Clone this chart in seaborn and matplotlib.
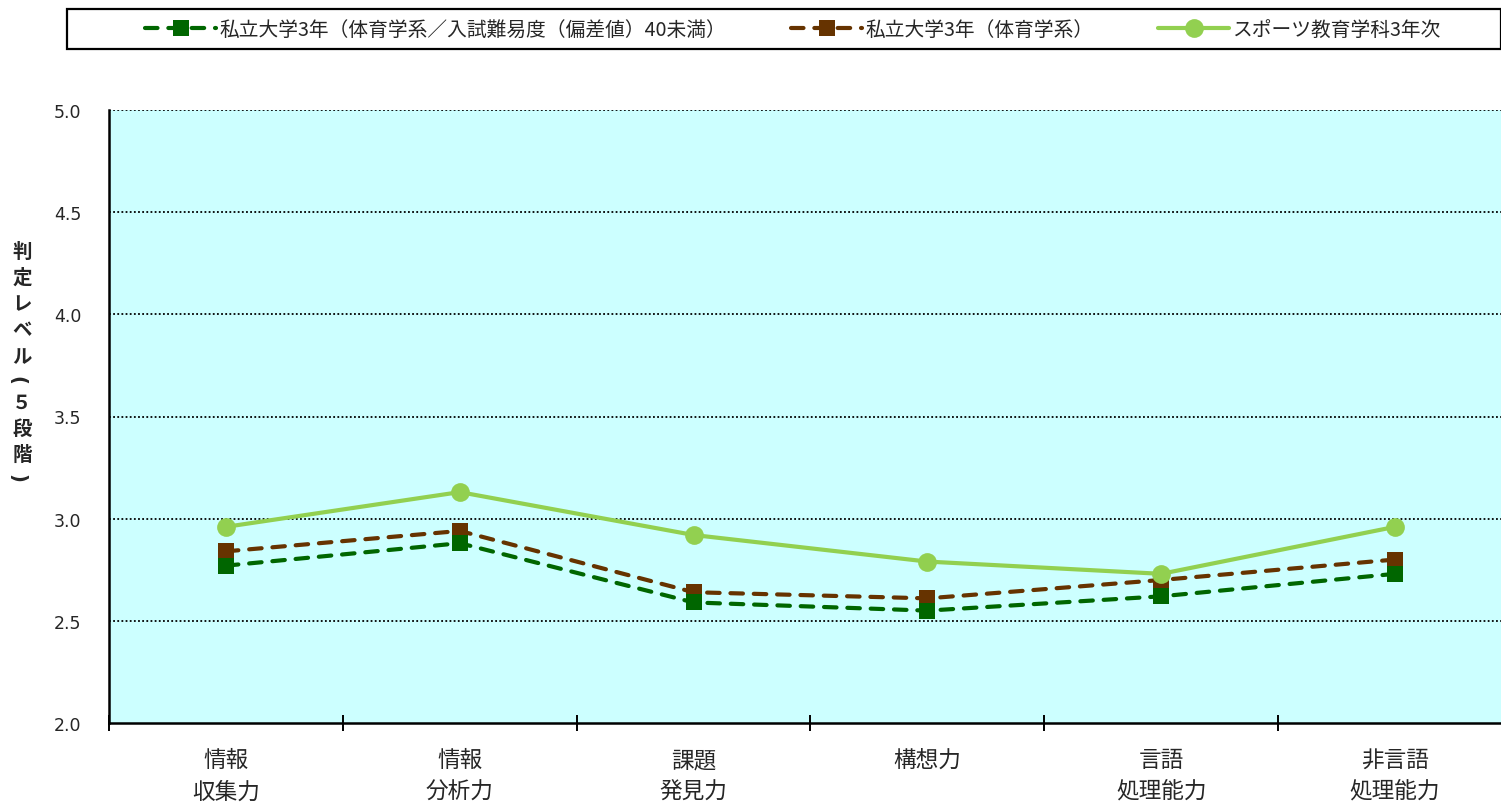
import numpy as np
import pandas as pd
import seaborn as sns
import matplotlib.pyplot as plt
from matplotlib.patches import Rectangle
from matplotlib.ticker import FixedLocator, MultipleLocator

# --- data ---------------------------------------------------------------
categories = ["情報\n収集力", "情報\n分析力", "課題\n発見力", "構想力", "言語\n処理能力", "非言語\n処理能力"]
series_names = [
    "私立大学3年（体育学系／入試難易度（偏差値）40未満）",
    "私立大学3年（体育学系）",
    "スポーツ教育学科3年次",
]
vals_low_dev = [2.77, 2.88, 2.59, 2.55, 2.62, 2.73]
vals_pe_all = [2.84, 2.94, 2.64, 2.61, 2.70, 2.80]
vals_dept = [2.96, 3.13, 2.92, 2.79, 2.73, 2.96]
y_ticks = [2.0, 2.5, 3.0, 3.5, 4.0, 4.5, 5.0]
y_label = "判定レベル(５段階)"

# --- style --------------------------------------------------------------
sns.set_theme(style="white")
plt.rcParams["font.family"] = ["Noto Sans CJK JP", "DejaVu Sans"]

colors = ["#006600", "#663300", "#92D050"]
pos = np.arange(len(categories))

W, H = 1501, 804
fig = plt.figure(figsize=(W / 100, H / 100), dpi=100)
ax = fig.add_axes([109 / W, 1 - 724 / H, (1512 - 109) / W, (724 - 111) / H])
ax.set_facecolor("#CCFFFF")

dash = (0, (3.0, 2.6))
specs = [
    (vals_low_dev, series_names[0], colors[0], "s", 11, dash, 4),
    (vals_pe_all, series_names[1], colors[1], "s", 11, dash, 3),
    (vals_dept, series_names[2], colors[2], "o", 13.5, "-", 5),
]
for vals, name, col, mk, ms, ls, z in specs:
    df = pd.DataFrame({"pos": pos, "value": vals})
    sns.lineplot(
        data=df, x="pos", y="value", ax=ax, color=col, marker=mk, markersize=ms,
        markeredgewidth=0, linewidth=3.0, linestyle=ls, dash_capstyle="round",
        zorder=z, label=name, legend=False,
    )

ax.set_xlim(-0.5, len(categories) - 0.5)
ax.set_ylim(2.0, 5.0)
ax.yaxis.set_major_locator(FixedLocator(y_ticks))
ax.set_yticklabels([f"{t:.1f}" for t in y_ticks], fontsize=12.5, family="DejaVu Sans")
ax.tick_params(axis="y", length=0, pad=20)

# boundaries between categories carry tick marks, centres carry labels
ax.xaxis.set_major_locator(MultipleLocator(1.0, offset=0.5))
ax.xaxis.set_minor_locator(FixedLocator(pos))
ax.set_xticklabels([], minor=False)
ax.set_xticklabels(categories, minor=True, fontsize=16.3, linespacing=1.5, va="top")
ax.tick_params(axis="x", which="major", direction="inout", length=12, width=1.4, color="black", bottom=True)
ax.tick_params(axis="x", which="minor", length=0, pad=18)
ax.set_xlabel("")
ax.set_ylabel("")

ax.grid(False)
for y in y_ticks[1:]:
    ax.axhline(y, color="black", linewidth=1.3, linestyle=(0, (1.0, 1.3)), zorder=1)

for s in ["top", "right"]:
    ax.spines[s].set_visible(False)
for s in ["left", "bottom"]:
    ax.spines[s].set_color("black")
    ax.spines[s].set_linewidth(1.8)

# vertical axis title, one character per line; brackets turned for vertical writing
advance = {"(": 0.75, ")": 0.75}
y_px = 252.0
for i, ch in enumerate(y_label):
    is_bracket = ch in "()"
    x_px = 17 if is_bracket else 22
    fig.text(x_px / W, 1 - y_px / H, ch, ha="center", va="center", fontsize=14,
             fontweight="bold", rotation=-90 if is_bracket else 0, rotation_mode="anchor",
             family=["DejaVu Sans"] if is_bracket else ["Noto Sans CJK JP"])
    if i + 1 < len(y_label):
        y_px += 26.3 * (advance.get(ch, 1.0) + advance.get(y_label[i + 1], 1.0)) / 2

# legend with its own box across the top
fig.patches.append(Rectangle((67 / W, 1 - 50 / H), (W - 67) / W, 40 / H,
                             transform=fig.transFigure, fill=False, edgecolor="black",
                             linewidth=1.6))
handles, labels = ax.get_legend_handles_labels()
fig.legend(handles, labels, loc="center", bbox_to_anchor=(793 / W, 1 - 30 / H),
           ncol=3, frameon=False, fontsize=14.2, handlelength=3.6, handletextpad=0.15,
           columnspacing=3.3, numpoints=1)

fig.savefig("out.png", dpi=100)
